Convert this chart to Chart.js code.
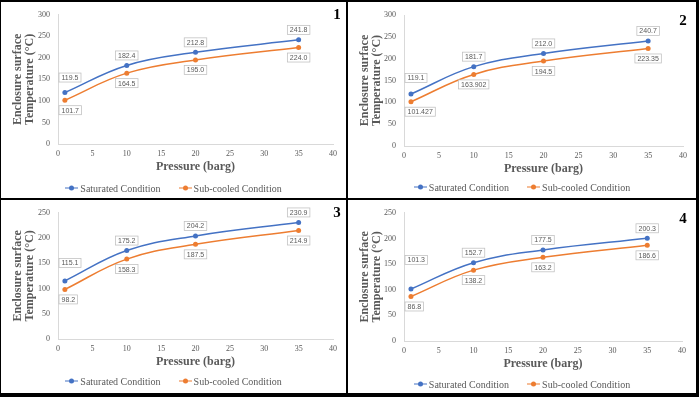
<!DOCTYPE html>
<html>
<head>
<meta charset="utf-8">
<script src="https://cdn.jsdelivr.net/npm/chart.js@4.4.0/dist/chart.umd.min.js"></script>
<style>
    body { margin: 0; width: 699px; height: 397px; background: #000; position: relative; overflow: hidden; font-family: "Liberation Serif", serif; }
    .panel { position: absolute; background: #fff; }
    .panel canvas { position: absolute; left: 0; top: 0; }
    .num { position: absolute; font: bold 15px "Liberation Serif", serif; color: #000; transform: translate(-50%, -50%); }
    .legend { position: absolute; left: 0; right: 0; display: flex; justify-content: center; gap: 18px; font-size: 10px; color: #595959; transform: translateY(-50%); white-space: nowrap; }
    .item { display: flex; align-items: center; gap: 2px; }
    .sym { position: relative; width: 13px; height: 1.5px; }
    .sym i { position: absolute; left: 4px; top: -1.75px; width: 5px; height: 5px; border-radius: 50%; }
</style>
</head>
<body>

<div class="panel" id="p1" style="left:1px;top:2px;width:345px;height:196px"></div>
<div class="panel" id="p2" style="left:348px;top:2px;width:348px;height:196px"></div>
<div class="panel" id="p3" style="left:1px;top:200px;width:345px;height:193px"></div>
<div class="panel" id="p4" style="left:348px;top:200px;width:348px;height:193px"></div>

<script>
// Données
const pressure = [1, 10, 20, 35];
const xTicksMax = 40;

const sat1 = [119.5, 182.4, 212.8, 241.8];
const sub1 = [101.7, 164.5, 195.0, 224.0];
const sat2 = [119.1, 181.7, 212.0, 240.7];
const sub2 = [101.427, 163.902, 194.5, 223.35];
const sat3 = [115.1, 175.2, 204.2, 230.9];
const sub3 = [98.2, 158.3, 187.5, 214.9];
const sat4 = [101.3, 152.7, 177.5, 200.3];
const sub4 = [86.8, 138.2, 163.2, 186.6];

const yMaxTop = 300;
const yMaxBottom = 250;

const colors = { sat: '#4472c4', sub: '#ed7d31', text: '#595959', axis: '#d9d9d9' };
const serif = '"Liberation Serif", serif';

// Étiquettes de valeurs encadrées (au-dessus / en dessous des points)
const valueLabels = {
    id: 'valueLabels',
    afterDatasetsDraw(chart, args, opts) {
        const ctx = chart.ctx;
        const a = chart.chartArea;
        ctx.save();
        ctx.font = '7px "Liberation Sans Narrow", "Liberation Sans", sans-serif';
        ctx.textAlign = 'center';
        ctx.textBaseline = 'middle';
        chart.data.datasets.forEach((ds, di) => {
            chart.getDatasetMeta(di).data.forEach((pt, i) => {
                const txt = ds.labelText[i];
                const w = ctx.measureText(txt).width + 5;
                const h = 9;
                let dy = di === 0 ? -10 : 10;
                if (di === 0 && i === 0) dy -= opts.firstLift;
                const cx = Math.max(a.left + w / 2 + 1, Math.min(a.right - w / 2, pt.x));
                const cy = pt.y + dy;
                ctx.fillStyle = '#fff';
                ctx.fillRect(cx - w / 2, cy - h / 2, w, h);
                ctx.strokeStyle = '#bfbfbf';
                ctx.lineWidth = 0.75;
                ctx.strokeRect(cx - w / 2, cy - h / 2, w, h);
                ctx.fillStyle = colors.text;
                ctx.fillText(txt, cx, cy + 0.5);
            });
        });
        ctx.restore();
    }
};

function series(label, values, color, fmt) {
    return {
        label: label,
        data: pressure.map((p, i) => ({ x: p, y: values[i] })),
        labelText: values.map(fmt),
        borderColor: color,
        backgroundColor: color,
        borderWidth: 1.5,
        pointRadius: 2.5,
        pointBorderWidth: 0,
        tension: 0.4
    };
}

const fixed1 = v => v.toFixed(1);
const raw = v => String(v);

function makePanel(id, sat, sub, cfg) {
    const panel = document.getElementById(id);
    const w = panel.offsetWidth, h = panel.offsetHeight;
    const area = cfg.area;
    const canvas = document.createElement('canvas');
    canvas.width = w;
    canvas.height = h;
    panel.appendChild(canvas);

    const num = document.createElement('div');
    num.className = 'num';
    num.textContent = cfg.num;
    num.style.left = cfg.numPos[0] + 'px';
    num.style.top = cfg.numPos[1] + 'px';
    panel.appendChild(num);

    const legend = document.createElement('div');
    legend.className = 'legend';
    legend.style.top = cfg.legendY + 'px';
    legend.innerHTML =
        '<div class="item"><span class="sym" style="background:' + colors.sat + '"><i style="background:' + colors.sat + '"></i></span>Saturated Condition</div>' +
        '<div class="item"><span class="sym" style="background:' + colors.sub + '"><i style="background:' + colors.sub + '"></i></span>Sub-cooled Condition</div>';
    panel.appendChild(legend);

    const xh = 30;
    new Chart(canvas, {
        type: 'line',
        data: {
            datasets: [
                series('Saturated Condition', sat, colors.sat, fixed1),
                series('Sub-cooled Condition', sub, colors.sub, cfg.subFmt || fixed1)
            ]
        },
        options: {
            responsive: false,
            animation: false,
            devicePixelRatio: 1,
            layout: { padding: { left: 0, top: area.t, right: w - area.r, bottom: h - area.b - xh } },
            plugins: {
                legend: { display: false },
                tooltip: { enabled: false },
                valueLabels: { firstLift: cfg.firstLift }
            },
            scales: {
                x: {
                    type: 'linear',
                    min: 0,
                    max: xTicksMax,
                    ticks: { stepSize: 5, padding: 5, color: colors.text, font: { family: serif, size: 8 } },
                    grid: { display: false, drawTicks: false },
                    border: { display: true, color: colors.axis },
                    title: {
                        display: true,
                        text: 'Pressure (barg)',
                        color: colors.text,
                        padding: 0,
                        font: { family: serif, size: 12, weight: 'bold', lineHeight: 1.2 }
                    },
                    afterFit: s => { s.height = xh; }
                },
                y: {
                    min: 0,
                    max: cfg.yMax,
                    ticks: { stepSize: 50, padding: 8, color: colors.text, font: { family: serif, size: 8 } },
                    grid: { display: false, drawTicks: false },
                    border: { display: true, color: colors.axis },
                    title: {
                        display: true,
                        text: ['Enclosure surface', 'Temperature (°C)'],
                        color: colors.text,
                        padding: { top: 11, bottom: 0 },
                        font: { family: serif, size: 12, weight: 'bold', lineHeight: 1 }
                    },
                    afterFit: s => { s.width = area.l; }
                }
            }
        },
        plugins: [valueLabels]
    });
}

makePanel('p1', sat1, sub1, { num: '1', numPos: [336, 12], legendY: 186, yMax: yMaxTop, firstLift: 5, area: { l: 57, r: 332, t: 11, b: 142 } });
makePanel('p2', sat2, sub2, { num: '2', numPos: [335, 18], legendY: 185, yMax: yMaxTop, firstLift: 6, subFmt: raw, area: { l: 56, r: 335, t: 13, b: 144 } });
makePanel('p3', sat3, sub3, { num: '3', numPos: [336, 12], legendY: 181, yMax: yMaxBottom, firstLift: 8, area: { l: 57, r: 332, t: 11, b: 139 } });
makePanel('p4', sat4, sub4, { num: '4', numPos: [335, 18], legendY: 184, yMax: yMaxBottom, firstLift: 19, area: { l: 56, r: 334, t: 11, b: 141 } });
</script>
</body>
</html>
